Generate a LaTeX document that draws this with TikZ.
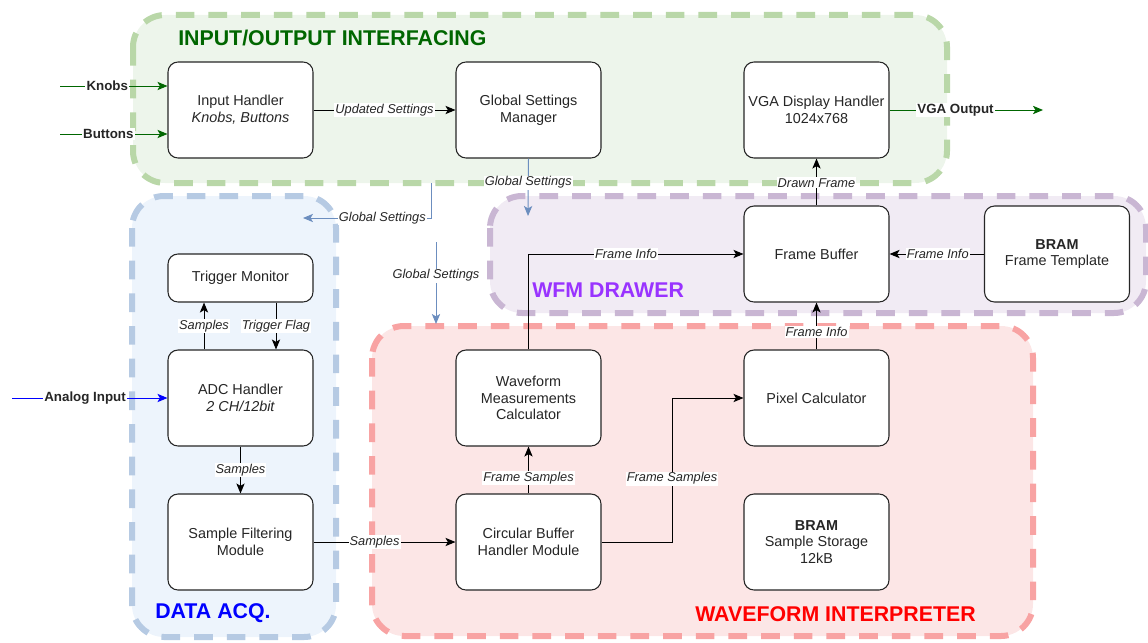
\documentclass[tikz,border=0pt]{standalone}
\usepackage{fontspec}
\setmainfont{Liberation Sans}
\usetikzlibrary{arrows.meta}

\definecolor{ioFill}{HTML}{EDF5EB}
\definecolor{ioLine}{HTML}{B9D7A8}
\definecolor{daFill}{HTML}{EDF4FC}
\definecolor{daLine}{HTML}{B6CAE3}
\definecolor{wdFill}{HTML}{F1EBF4}
\definecolor{wdLine}{HTML}{C9B6D3}
\definecolor{wiFill}{HTML}{FCE6E6}
\definecolor{wiLine}{HTML}{F8A3A3}
\definecolor{ioTitle}{HTML}{006600}
\definecolor{daTitle}{HTML}{0000FF}
\definecolor{wdTitle}{HTML}{9933FF}
\definecolor{wiTitle}{HTML}{FF0000}
\definecolor{settingsBlue}{HTML}{6C8EBF}
\definecolor{inGreen}{HTML}{006600}
\definecolor{txt}{HTML}{262626}

\tikzset{
  group/.style={rounded corners=24pt, line width=4.5pt, dash pattern=on 14pt off 10.5pt},
  grouptitle/.style={anchor=west, inner sep=0pt, font=\fontsize{16}{18}\selectfont\bfseries},
  block/.style={draw=black!85, fill=white, rounded corners=7.5pt, line width=0.8pt,
    minimum width=108.75pt, minimum height=72pt, inner sep=2pt, align=center,
    text=txt, font=\fontsize{10.8}{12.6}\selectfont},
  shortblock/.style={block, minimum height=36pt},
  tip/.style={-{Stealth[length=7.5pt,width=6.2pt,inset=1.8pt,#1]}},
  flow/.style={draw=black, line width=0.75pt, tip={fill=black}},
  setflow/.style={flow, draw=settingsBlue, tip={fill=settingsBlue}},
  inflow/.style={flow, draw=inGreen, tip={fill=inGreen}},
  anflow/.style={flow, draw=blue, tip={fill=blue}},
  lbl/.style={fill=white, inner sep=0.8pt, text=txt, font=\fontsize{9.6}{11}\selectfont\itshape},
  iolbl/.style={fill=white, inner sep=0.8pt, text=black!85, font=\fontsize{10}{11}\selectfont\bfseries},
}

\begin{document}
\begin{tikzpicture}[x=0.75pt, y=-0.75pt]
\useasboundingbox (0,0) rectangle (1148,642);

% ---- functional groups ----
\draw[group, draw=ioLine, fill=ioFill] (133,15) rectangle (947,183);
\draw[group, draw=daLine, fill=daFill] (132,196) rectangle (336,637);
\draw[group, draw=wdLine, fill=wdFill] (490,196) rectangle (1146,313);
\draw[group, draw=wiLine, fill=wiFill] (372,326) rectangle (1033,636);

\node[grouptitle, text=ioTitle] (tio) at (178,38) {INPUT/OUTPUT INTERFACING};
\node[grouptitle, text=daTitle] (tda) at (155,613) {DATA ACQ.};
\node[grouptitle, text=wdTitle] (twd) at (532,290) {WFM DRAWER};
\node[grouptitle, text=wiTitle] (twi) at (695,614) {WAVEFORM INTERPRETER};

% ---- blocks ----
\node[block] (ih)  at (240.5,110) {Input Handler\\\itshape Knobs, Buttons};
\node[block] (gsm) at (528.5,110) {Global Settings\\Manager};
\node[block] (vga) at (816.5,110) {VGA Display Handler\\1024x768};

\node[shortblock] (tm) at (240.5,278) {Trigger Monitor};
\node[block] (adc) at (240.5,398) {ADC Handler\\\itshape 2 CH/12bit};
\node[block] (sf)  at (240.5,542) {Sample Filtering\\Module};

\node[block] (fb)  at (816.5,254) {Frame Buffer};
\node[block] (ft)  at (1057,254) {\textbf{BRAM}\\Frame Template};

\node[block] (wm)  at (528.5,398) {Waveform\\Measurements\\Calculator};
\node[block] (cb)  at (528.5,542) {Circular Buffer\\Handler Module};
\node[block] (pc)  at (816.5,398) {Pixel Calculator};
\node[block] (ss)  at (816.5,542) {\textbf{BRAM}\\Sample Storage\\12kB};

% ---- free ends ----
\coordinate (knobsIn)   at (60,86);
\coordinate (buttonsIn) at (60,134);
\coordinate (analogIn)  at (12,398);
\coordinate (vgaOut)    at (1043,110);
\coordinate (gsA)       at (528,216);
\coordinate (gsBtop)    at (431,183);
\coordinate (gsBend)    at (303,218);
\coordinate (gsCtop)    at (436,242);
\coordinate (gsCend)    at (436,324);
\coordinate (xbend)     at (672,0);

% ---- external I/O ----
\draw[inflow] (knobsIn) -- node[iolbl, pos=0.44] {Knobs} (ih.west |- knobsIn);
\draw[inflow] (buttonsIn) -- node[iolbl, pos=0.45] {Buttons} (ih.west |- buttonsIn);
\draw[anflow] (analogIn) -- node[iolbl, pos=0.47] {Analog Input} (adc.west);
\draw[inflow] (vga.east) -- node[iolbl, pos=0.43] {VGA Output} (vgaOut);

% ---- settings distribution ----
\draw[flow] (ih.east) -- node[lbl] {Updated Settings} (gsm.west);
\draw[setflow] (gsm.south) -- node[lbl, pos=0.42] {Global Settings} (gsA);
\draw[setflow] (gsBtop) |- node[lbl, pos=0.69] {Global Settings} (gsBend);
\draw[setflow] (gsCtop) -- node[lbl, pos=0.41] {Global Settings} (gsCend);

% ---- data acquisition ----
\draw[flow] (adc.north -| 204,0) -- node[lbl] {Samples} (tm.south -| 204,0);
\draw[flow] (tm.south -| 276,0) -- node[lbl] {Trigger Flag} (adc.north -| 276,0);
\draw[flow] (adc.south) -- node[lbl] {Samples} (sf.north);
\draw[flow] (sf.east) -- node[lbl, pos=0.43] {Samples} (cb.west);

% ---- waveform interpretation ----
\draw[flow] (cb.north) -- node[lbl, pos=0.33] {Frame Samples} (wm.south);
\draw[flow] (cb.east) -- (cb.east -| xbend) -- node[lbl, pos=0.44] {Frame Samples} (xbend |- pc.west) -- (pc.west);

% ---- frame drawing ----
\draw[flow] (wm.north) |- node[lbl, pos=0.727] {Frame Info} (fb.west);
\draw[flow] (pc.north) -- node[lbl, pos=0.375] {Frame Info} (fb.south);
\draw[flow] (ft.west) -- node[lbl, pos=0.49] {Frame Info} (fb.east);
\draw[flow] (fb.north) -- node[lbl, pos=0.48] {Drawn Frame} (vga.south);
\end{tikzpicture}
\end{document}
